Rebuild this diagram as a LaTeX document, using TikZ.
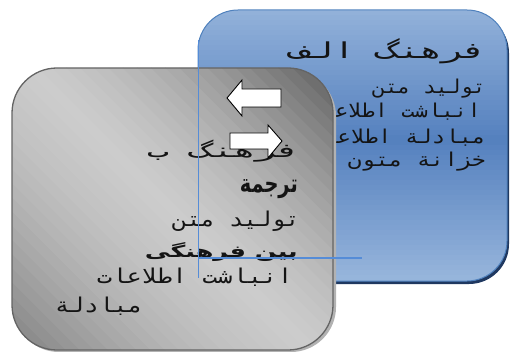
\documentclass[tikz,border=0pt]{standalone}
\usepackage{fontspec}
\usepackage{graphicx}
\TeXXeTstate=1
\newfontfamily\armono[Script=Arabic]{DejaVu Sans Mono}
\newfontfamily\arsans[Script=Arabic]{DejaVu Sans}
\definecolor{bluetop}{RGB}{152,182,220}
\definecolor{bluemid}{RGB}{84,128,190}
\definecolor{blueedge}{RGB}{79,129,189}
\definecolor{blueline}{RGB}{85,140,215}
\definecolor{blueshadow}{RGB}{31,56,96}
\definecolor{grayedge}{RGB}{100,100,100}
\definecolor{txt}{RGB}{20,20,20}
\tikzset{
  lbl/.style={anchor=base east, inner sep=0pt, text=txt},
  blockarrow/.style={draw=black, fill=white, line width=0.9pt, line join=miter},
  thinblue/.style={draw=blueline, line width=1.4pt}
}
\begin{document}
\begin{tikzpicture}[x=1pt,y=-1pt]
\useasboundingbox (0,0) rectangle (510,352);
% blue box
\fill[blueshadow, rounded corners=40pt] (198,13) rectangle (509,284);
\begin{scope}
\clip[rounded corners=40pt] (198,10) rectangle (507,281);
\foreach \i in {0,...,54} {
  \pgfmathsetmacro\yy{10+5*\i}
  \pgfmathsetmacro\p{100*max(0,1-abs(\yy+2.5-140)/141)}
  \fill[bluemid!\p!bluetop] (198,\yy) rectangle (507,\yy+5.5);
}
\end{scope}
\draw[blueedge, line width=1pt, rounded corners=40pt] (198,10) rectangle (507,281);
\node[lbl] (a0) at (486,59) {\resizebox{196pt}{20pt}{\armono\beginR فرهنگ الف\endR}};
\node[lbl] (a1) at (486,94) {\resizebox{113pt}{14.5pt}{\armono\beginR تولید متن\endR}};
\node[lbl] (a2) at (481,118) {\resizebox{172pt}{14.5pt}{\armono\beginR انباشت اطلاعات\endR}};
\node[lbl] (a3) at (486,144) {\resizebox{175pt}{14.5pt}{\armono\beginR مبادلة اطلاعات\endR}};
\node[lbl] (a4) at (486,167) {\resizebox{138pt}{14.5pt}{\armono\beginR خزانة متون\endR}};
% gray box
\fill[black!30, rounded corners=45pt] (14,71) rectangle (336,352);
\begin{scope}
\clip[rounded corners=45pt] (12,68) rectangle (333,350);
\begin{scope}[shift={(172,209)}, rotate=45]
\foreach \i in {0,...,47} {
  \pgfmathsetmacro\tc{-235+10*\i+5}
  \pgfmathsetmacro\xx{min(1,abs(\tc)/213)}
  \pgfmathsetmacro\p{20+ifthenelse(\tc>0,44,30)*(0.35*\xx+0.65*\xx*\xx)}
  \fill[black!\p] (\tc-5,-260) rectangle (\tc+5.6,260);
}
\end{scope}
\end{scope}
\draw[grayedge, line width=1.3pt, rounded corners=45pt] (12,68) rectangle (333,350);
\node[lbl] (b0) at (300,158) {\resizebox{153pt}{17.5pt}{\armono\beginR فرهنگ ب\endR}};
\node[lbl] (b1) at (298,193) {\resizebox{58pt}{13pt}{\arsans\bfseries\beginR ترجمة\endR}};
\node[lbl] (b2) at (300,226) {\resizebox{127pt}{15.5pt}{\armono\beginR تولید متن\endR}};
\node[lbl] (b3) at (298,257) {\resizebox{153pt}{15pt}{\arsans\bfseries\beginR بین فرهنگی\endR}};
\node[lbl] (b4) at (293,283) {\resizebox{196pt}{15.5pt}{\armono\beginR انباشت اطلاعات\endR}};
\node[lbl] (b5) at (143,312) {\resizebox{88pt}{15.5pt}{\armono\beginR مبادلة\endR}};
% arrows
\draw[blockarrow] (227,98) -- (242,80) -- (242,89) -- (281,89) -- (281,107) -- (242,107) -- (242,116) -- cycle;
\draw[blockarrow] (282,141) -- (268,125) -- (268,133) -- (230,133) -- (230,149) -- (268,149) -- (268,158) -- cycle;
% thin blue lines
\coordinate (v1) at (198.5,40);
\coordinate (v2) at (198.5,278);
\coordinate (h1) at (198.5,258);
\coordinate (h2) at (362,258);
\draw[thinblue] (v1) -- (v2);
\draw[thinblue] (h1) -- (h2);
\end{tikzpicture}
\end{document}
